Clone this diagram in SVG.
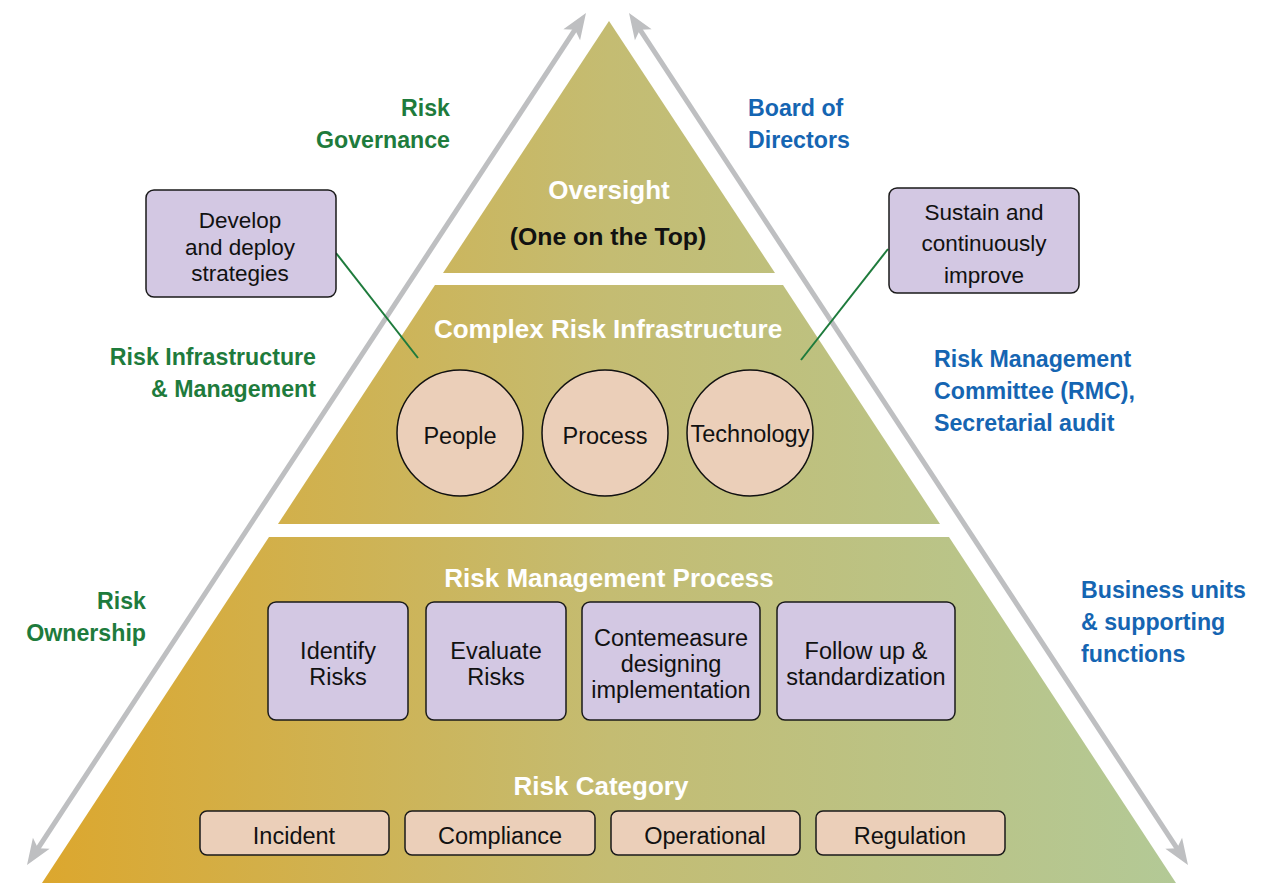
<svg xmlns="http://www.w3.org/2000/svg" width="1271" height="883" viewBox="0 0 1271 883">
  <defs>
    <linearGradient id="tier" gradientUnits="userSpaceOnUse" x1="42" y1="0" x2="1176" y2="0">
      <stop offset="0" stop-color="#DCA72E"/>
      <stop offset="0.5" stop-color="#C4BC72"/>
      <stop offset="1" stop-color="#B3C996"/>
    </linearGradient>
    <marker id="head" markerUnits="userSpaceOnUse" viewBox="-14 -12 30 24" refX="0" refY="0" markerWidth="30" markerHeight="24" orient="auto-start-reverse" overflow="visible">
      <path d="M14,0 L-12,-10 L-6,0 L-12,10 Z" fill="#BEBFC1"/>
    </marker>
    <style>
      .tier { fill: url(#tier); }
      .box { fill: #D3C8E3; stroke: #1A1A1A; stroke-width: 1.5; }
      .cat { fill: #EBCFB9; stroke: #1A1A1A; stroke-width: 1.5; }
      .circ { fill: #EBCFB9; stroke: #111; stroke-width: 1.5; }
      .t { font-family: "Liberation Sans", Arial, sans-serif; font-size: 22.5px; fill: #111; text-anchor: middle; }
      .t2 { font-size: 23.5px; }
      .title { font-family: "Liberation Sans", Arial, sans-serif; font-size: 26px; font-weight: bold; fill: #fff; text-anchor: middle; }
      .green { font-family: "Liberation Sans", Arial, sans-serif; font-size: 23.2px; font-weight: bold; fill: #1E7B3C; text-anchor: end; }
      .blue { font-family: "Liberation Sans", Arial, sans-serif; font-size: 23.2px; font-weight: bold; fill: #1565B2; }
      .axis { stroke: #BEBFC1; stroke-width: 5; fill: none; marker-start: url(#head); marker-end: url(#head); }
      .link { stroke: #1E7B3C; stroke-width: 2; fill: none; }
    </style>
  </defs>

  <!-- pyramid tiers -->
  <g id="tier-oversight">
    <polygon class="tier" points="609,21 775,273 443,273"/>
    <text class="title" x="609" y="199">Oversight</text>
    <text class="t" x="608" y="245" style="font-weight:bold;font-size:24.8px">(One on the Top)</text>
  </g>
  <g id="tier-infrastructure">
    <polygon class="tier" points="435,285 783,285 940,524 278,524"/>
    <text class="title" x="608" y="338">Complex Risk Infrastructure</text>
  </g>
  <g id="tier-process">
    <polygon class="tier" points="269,537 949,537 1176,883 42,883"/>
    <text class="title" x="609" y="587">Risk Management Process</text>
    <text class="title" x="601" y="795">Risk Category</text>
  </g>

  <!-- connectors -->
  <g id="connectors">
    <line class="axis" x1="34.7" y1="853.3" x2="578.3" y2="24.7"/>
    <line class="axis" x1="636.7" y1="24.7" x2="1180.3" y2="853.3"/>
    <line class="link" x1="336" y1="253" x2="418" y2="358"/>
    <line class="link" x1="888" y1="249" x2="801" y2="360"/>
  </g>

  <!-- side labels -->
  <g id="label-governance">
    <text class="green" x="450" y="116">Risk</text>
    <text class="green" x="450" y="148">Governance</text>
  </g>
  <g id="label-board">
    <text class="blue" x="748" y="116">Board of</text>
    <text class="blue" x="748" y="148">Directors</text>
  </g>
  <g id="label-infra">
    <text class="green" x="316" y="365">Risk Infrastructure</text>
    <text class="green" x="316" y="397">&amp; Management</text>
  </g>
  <g id="label-rmc">
    <text class="blue" x="934" y="367">Risk Management</text>
    <text class="blue" x="934" y="399">Committee (RMC),</text>
    <text class="blue" x="934" y="431">Secretarial audit</text>
  </g>
  <g id="label-ownership">
    <text class="green" x="146" y="609">Risk</text>
    <text class="green" x="146" y="641">Ownership</text>
  </g>
  <g id="label-business">
    <text class="blue" x="1081" y="598">Business units</text>
    <text class="blue" x="1081" y="630">&amp; supporting</text>
    <text class="blue" x="1081" y="662">functions</text>
  </g>

  <!-- callouts -->
  <g id="node-develop">
    <rect class="box" x="146" y="190" width="190" height="107" rx="8"/>
    <text class="t" x="240" y="228">Develop</text>
    <text class="t" x="240" y="255">and deploy</text>
    <text class="t" x="240" y="281">strategies</text>
  </g>
  <g id="node-sustain">
    <rect class="box" x="889" y="188" width="190" height="105" rx="8"/>
    <text class="t" x="984" y="220">Sustain and</text>
    <text class="t" x="984" y="251">continuously</text>
    <text class="t" x="984" y="283">improve</text>
  </g>

  <!-- infrastructure pillars -->
  <g id="node-people">
    <circle class="circ" cx="460" cy="433" r="63"/>
    <text class="t t2" x="460" y="444">People</text>
  </g>
  <g id="node-process">
    <circle class="circ" cx="605" cy="433" r="63"/>
    <text class="t t2" x="605" y="444">Process</text>
  </g>
  <g id="node-technology">
    <circle class="circ" cx="750" cy="433" r="63"/>
    <text class="t t2" x="750" y="442">Technology</text>
  </g>

  <!-- process steps -->
  <g id="node-identify">
    <rect class="box" x="268" y="602" width="140" height="118" rx="8"/>
    <text class="t t2" x="338" y="659">Identify</text>
    <text class="t t2" x="338" y="685">Risks</text>
  </g>
  <g id="node-evaluate">
    <rect class="box" x="426" y="602" width="140" height="118" rx="8"/>
    <text class="t t2" x="496" y="659">Evaluate</text>
    <text class="t t2" x="496" y="685">Risks</text>
  </g>
  <g id="node-countermeasure">
    <rect class="box" x="582" y="602" width="178" height="118" rx="8"/>
    <text class="t t2" x="671" y="646">Contemeasure</text>
    <text class="t t2" x="671" y="672">designing</text>
    <text class="t t2" x="671" y="698">implementation</text>
  </g>
  <g id="node-followup">
    <rect class="box" x="777" y="602" width="178" height="118" rx="8"/>
    <text class="t t2" x="866" y="659">Follow up &amp;</text>
    <text class="t t2" x="866" y="685">standardization</text>
  </g>

  <!-- risk categories -->
  <g id="node-incident">
    <rect class="cat" x="200" y="811" width="189" height="44" rx="7"/>
    <text class="t t2" x="294" y="844">Incident</text>
  </g>
  <g id="node-compliance">
    <rect class="cat" x="405" y="811" width="190" height="44" rx="7"/>
    <text class="t t2" x="500" y="844">Compliance</text>
  </g>
  <g id="node-operational">
    <rect class="cat" x="611" y="811" width="189" height="44" rx="7"/>
    <text class="t t2" x="705" y="844">Operational</text>
  </g>
  <g id="node-regulation">
    <rect class="cat" x="816" y="811" width="189" height="44" rx="7"/>
    <text class="t t2" x="910" y="844">Regulation</text>
  </g>
</svg>
